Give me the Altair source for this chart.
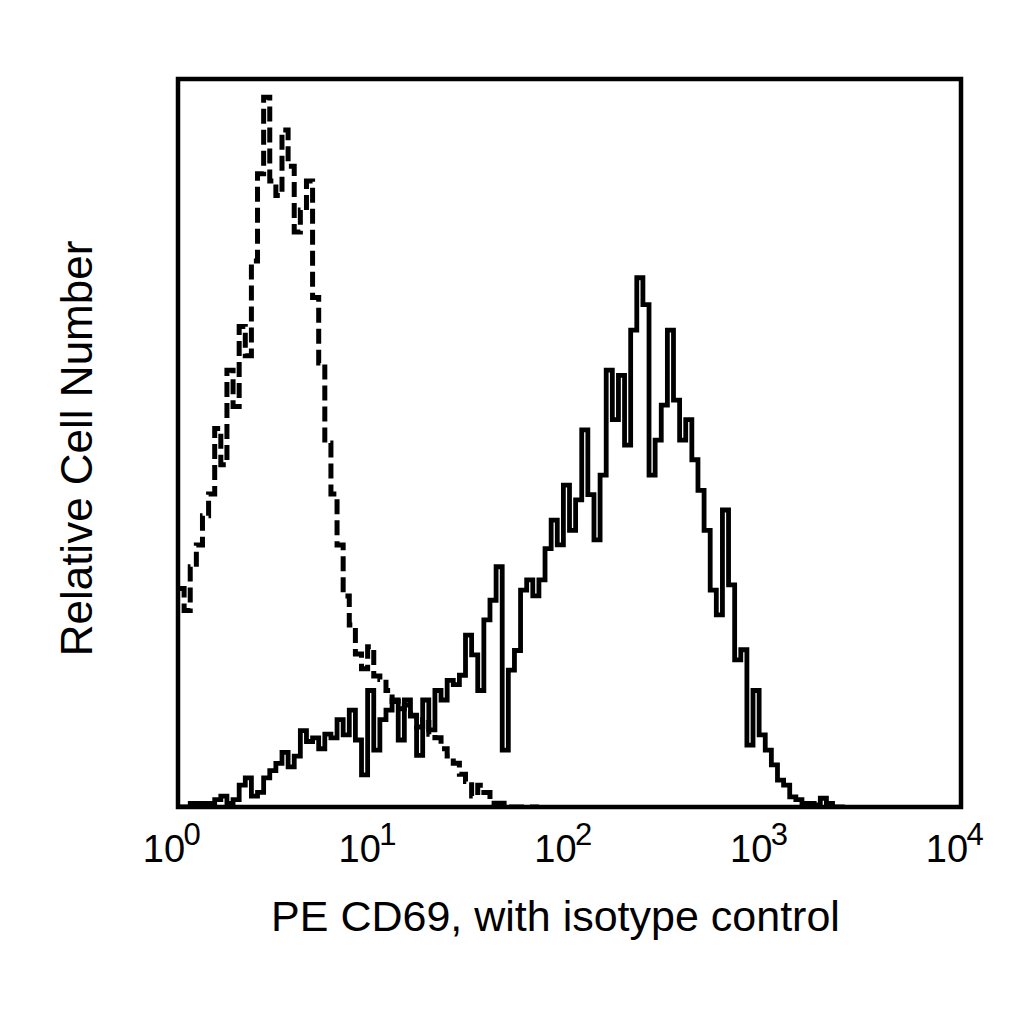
import altair as alt
import numpy as np
import pandas as pd

# histogram channels: 128 bins over 4 decades
BINS_PER_DECADE = 32
FONT = "Liberation Sans"

# isotype control (dashed), counts per bin
ISOTYPE_COUNTS = [
    30, 27, 33, 36, 40, 43, 52, 47, 60, 55,
    66, 62, 75, 87, 97.5, 86, 84, 93, 88, 79,
    82, 86, 70, 61, 50, 43, 36, 29, 25, 21,
    19, 22, 18, 17.5, 16, 14.5, 13.5, 14, 12.5, 11,
    12, 10, 9.5, 8, 7, 6, 4.5, 3.5, 1.5, 3,
    2, 0.5, 0.5, 0.5, 0, 0, 0, 0, 0, 0,
]

# PE CD69 (solid), counts per bin
CD69_COUNTS = [
    0, 0, 0.5, 0.5, 0.5, 0.5, 1, 1.5, 0.5, 1,
    3, 4, 1.5, 2, 4, 5, 6, 7.5, 5.5, 7,
    10.5, 9, 9.5, 8, 10, 9.5, 12, 9.9, 13.3, 9.2,
    4.4, 16, 7.8, 12, 13.3, 14.7, 9.2, 14.7, 12.6, 7.1,
    14.7, 10.6, 16, 14.7, 17.4, 16.8, 18.1, 23.6, 20.9, 16,
    25.7, 28.4, 33, 7.8, 18.8, 21.5, 29.8, 31.2, 29, 31.2,
    35.5, 39.4, 36, 44.2, 38, 42.2, 51.8, 42.9, 36.7, 45.6,
    60, 53.2, 59.3, 49.7, 65.5, 72.7, 69, 45.6, 50.4, 55.2,
    65.5, 55.9, 50.4, 53.2, 47.7, 43.5, 38, 29.8, 26.4, 40.8,
    30.5, 20.2, 21.6, 8.5, 16, 9.9, 7.8, 5.8, 3.7, 3,
    1.4, 1, 0.5, 0.5, 0.3, 1.2, 0.5, 0, 0, 0,
]

# tick labels: 10 with a raised exponent
DECADES = [1, 10, 100, 1000, 10000]
BASES = ["10", "10", "10", "10", "10"]
EXPONENTS = ["0", "1", "2", "3", "4"]


def channel_frame(counts):
    ch = np.arange(len(counts))
    return pd.DataFrame({"fl": 10 ** (ch / BINS_PER_DECADE), "count": counts})


ISO_DATA = channel_frame(ISOTYPE_COUNTS)
CD69_DATA = channel_frame(CD69_COUNTS)
LABEL_DATA = pd.DataFrame({"fl": DECADES, "base": BASES, "exp": EXPONENTS})

x_enc = alt.X(
    "fl:Q",
    scale=alt.Scale(type="log", domain=[1, 10000], nice=False),
    axis=alt.Axis(
        title="PE CD69, with isotype control",
        labels=False,
        ticks=False,
        domain=False,
        grid=False,
        titleFont=FONT,
        titleFontSize=43,
        titleFontWeight="normal",
        titleColor="black",
        titleBaseline="alphabetic",
        titleX=377,
        titleY=123,
    ),
)

y_enc = alt.Y(
    "count:Q",
    scale=alt.Scale(domain=[0, 100], nice=False),
    axis=alt.Axis(
        title="Relative Cell Number",
        labels=False,
        ticks=False,
        domain=False,
        grid=False,
        titleFont=FONT,
        titleFontSize=44,
        titleFontWeight="normal",
        titleColor="black",
        titleBaseline="alphabetic",
        titleAngle=270,
        titleX=-87,
        titleY=369,
    ),
)

isotype = alt.Chart(ISO_DATA).mark_line(
    interpolate="step-after", color="black", strokeWidth=5,
    strokeDash=[15, 6], clip=True
).encode(x=x_enc, y=y_enc)

cd69 = alt.Chart(CD69_DATA).mark_line(
    interpolate="step-after", color="black", strokeWidth=4.8, clip=True
).encode(x=x_enc, y=y_enc)

bases = alt.Chart(LABEL_DATA).mark_text(
    font=FONT, fontSize=38, color="black", align="center",
    baseline="alphabetic", dx=-14
).encode(x=x_enc, y=alt.value(783), text="base:N")

exponents = alt.Chart(LABEL_DATA).mark_text(
    font=FONT, fontSize=31, color="black", align="center",
    baseline="alphabetic", dx=14
).encode(x=x_enc, y=alt.value(766), text="exp:N")

chart = alt.layer(isotype, cd69, bases, exponents).properties(
    width=783,
    height=728,
    autosize=alt.AutoSizeParams(type="none"),
    padding={"left": 170, "top": 71, "right": 50, "bottom": 180},
    background="white",
).configure_view(stroke="black", strokeWidth=4.5)

chart.save("out.html", embed_options={"renderer": "svg", "actions": False})
